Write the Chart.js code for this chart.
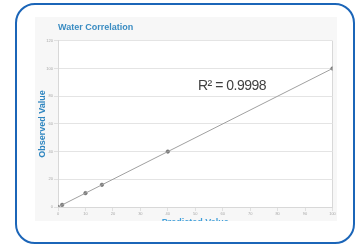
<!DOCTYPE html>
<html>
<head>
<meta charset="utf-8">
<script src="https://cdn.jsdelivr.net/npm/chart.js@4.4.0/dist/chart.umd.min.js"></script>
<style>
  html, body { margin: 0; padding: 0; background: #fff; }
  .card {
    position: absolute; left: 15px; top: 3px; width: 340px; height: 241px;
    box-sizing: border-box; border: 2.5px solid #1b65b8; border-radius: 20px; background: #fff;
  }
  .clip {
    position: absolute; left: 35px; top: 17px; width: 302px; height: 204px;
    overflow: hidden; background: #f7f7f7;
  }
</style>
</head>
<body>
<div class="card"></div>
<div class="clip"><canvas id="chart" width="302" height="211"></canvas></div>
<script>
// predicted vs observed water values
var predicted = [0, 1.5, 10, 16, 40, 100];
var observed = [0, 1.5, 10, 16, 40, 100];
// fitted trendline ends
var trendX = [0, 100];
var trendY = [0, 100];
var r2Text = 'R\u00B2 = 0.9998';
var r2At = { x: 51, y: 87 };

var points = predicted.map(function (v, i) {
  return { x: v, y: observed[i] };
});
var trend = trendX.map(function (v, i) {
  return { x: v, y: trendY[i] };
});

var r2Label = {
  id: 'r2Label',
  beforeDraw: function (chart) {
    var a = chart.chartArea, ctx = chart.ctx;
    ctx.save();
    ctx.fillStyle = '#ffffff';
    ctx.fillRect(a.left, a.top, a.right - a.left, a.bottom - a.top);
    ctx.restore();
  },
  afterDatasetsDraw: function (chart) {
    var ctx = chart.ctx;
    ctx.save();
    ctx.font = '14px "Liberation Sans", Arial, sans-serif';
    ctx.letterSpacing = '-0.5px';
    ctx.fillStyle = '#404040';
    ctx.textBaseline = 'middle';
    ctx.fillText(r2Text, chart.scales.x.getPixelForValue(r2At.x), chart.scales.y.getPixelForValue(r2At.y));
    ctx.restore();
  }
};

var chart = new Chart('chart', {
  type: 'scatter',
  data: {
    datasets: [
      {
        data: trend,
        showLine: true,
        borderColor: '#a0a0a0',
        borderWidth: 1,
        pointRadius: 0
      },
      {
        data: points,
        pointRadius: 1.8,
        pointBackgroundColor: '#7a7a7a',
        pointBorderColor: '#6a6a6a',
        pointBorderWidth: 0.5
      }
    ]
  },
  options: {
    responsive: false,
    animation: false,
    layout: { padding: { right: 2 } },
    plugins: {
      legend: { display: false },
      tooltip: { enabled: false },
      title: {
        display: true,
        text: 'Water Correlation',
        align: 'start',
        fullSize: false,
        color: '#3a8cc2',
        font: { family: '"Liberation Sans", Arial, sans-serif', size: 9, weight: 'bold' },
        padding: { top: 5, bottom: 8 }
      }
    },
    scales: {
      x: {
        type: 'linear',
        min: 0,
        max: 100,
        afterFit: function (s) { s.height = 21; },
        ticks: {
          stepSize: 10,
          padding: 0,
          color: '#a8a8a8',
          font: { size: 4 }
        },
        grid: {
          tickLength: 4,
          color: function (c) { return c.index === 10 ? '#d8d8d8' : 'rgba(0,0,0,0)'; },
          tickColor: '#e0e0e0'
        },
        border: { color: '#d8d8d8' },
        title: {
          display: true,
          text: 'Predicted Value',
          color: '#42a0da',
          font: { family: '"Liberation Sans", Arial, sans-serif', size: 9, weight: 'bold' },
          padding: { top: 0, bottom: 0 }
        }
      },
      y: {
        min: 0,
        max: 120,
        afterFit: function (s) { s.width = 23; },
        ticks: {
          stepSize: 20,
          padding: 1,
          color: '#a8a8a8',
          font: { size: 4 }
        },
        grid: {
          tickLength: 4,
          color: '#e4e4e4',
          tickColor: '#e0e0e0'
        },
        border: { color: '#d8d8d8' },
        title: {
          display: true,
          text: 'Observed Value',
          color: '#2f86c0',
          font: { family: '"Liberation Sans", Arial, sans-serif', size: 9, weight: 'bold' },
          padding: { top: 2, bottom: 0 }
        }
      }
    }
  },
  plugins: [r2Label]
});
</script>
</body>
</html>
